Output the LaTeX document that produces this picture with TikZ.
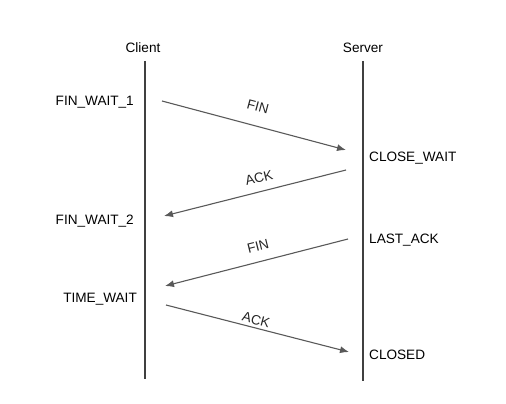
\documentclass[tikz,border=0pt]{standalone}
\usepackage{fontspec}
\setmainfont{Liberation Sans}
\usetikzlibrary{arrows.meta}
\begin{document}
\begin{tikzpicture}[x=1pt,y=-1pt,
  lbl/.style={font=\fontsize{13.6}{15}\selectfont, inner sep=0pt, text=black},
  life/.style={line width=2.6pt, draw=black!75},
  msg/.style={line width=1.1pt, draw=black!65, -{Latex[length=9pt,width=7pt]}},
  mlbl/.style={font=\fontsize{13.6}{15}\selectfont, inner sep=0pt, text=black!85}]
\useasboundingbox (0,0) rectangle (506,404);
\node[lbl] (client) at (143,48) {Client};
\node[lbl] (server) at (363,48) {Server};
\coordinate (ctop) at (145,61);
\coordinate (cbot) at (145,379);
\coordinate (stop) at (363,61);
\coordinate (sbot) at (363,381);
\draw[life] (ctop) -- (cbot);
\draw[life, line width=2.2pt] (stop) -- (sbot);
\node[lbl, anchor=east] (fw1) at (134,102) {FIN\_WAIT\_1};
\node[lbl, anchor=east] (fw2) at (134,221) {FIN\_WAIT\_2};
\node[lbl, anchor=east] (tw) at (137,299) {TIME\_WAIT};
\node[lbl, anchor=west] (cw) at (369,158) {CLOSE\_WAIT};
\node[lbl, anchor=west] (la) at (369,240) {LAST\_ACK};
\node[lbl, anchor=west] (cl) at (369,355) {CLOSED};
\coordinate (a1s) at (162,101);
\coordinate (a1e) at (346,150);
\coordinate (a2s) at (346,170);
\coordinate (a2e) at (164,216);
\coordinate (a3s) at (348,239);
\coordinate (a3e) at (165,286);
\coordinate (a4s) at (166,305);
\coordinate (a4e) at (349,352);
\draw[msg] (a1s) -- (a1e);
\draw[msg] (a2s) -- (a2e);
\draw[msg] (a3s) -- (a3e);
\draw[msg] (a4s) -- (a4e);
\node[mlbl, rotate=-15] (l1) at (258,107) {FIN};
\node[mlbl, rotate=14] (l2) at (259,178) {ACK};
\node[mlbl, rotate=14] (l3) at (258,246) {FIN};
\node[mlbl, rotate=-15] (l4) at (256,320) {ACK};
\end{tikzpicture}
\end{document}
